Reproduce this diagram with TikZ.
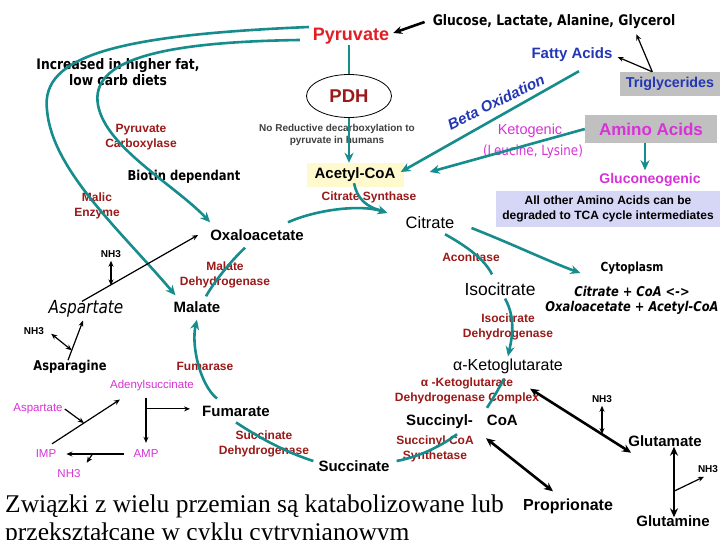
\documentclass[tikz,border=0pt]{standalone}
\usepackage{fontspec}
\setmainfont{Liberation Serif}
\newfontfamily\arialf{Liberation Sans}
\newfontfamily\comicf[FakeStretch=0.85]{DejaVu Sans}
\usetikzlibrary{shapes.geometric,arrows.meta,calc}

\definecolor{cycteal}{RGB}{22,140,140}
\definecolor{enzred}{RGB}{155,25,25}
\definecolor{pyrred}{RGB}{225,30,35}
\definecolor{fablue}{RGB}{35,55,180}
\definecolor{aamag}{RGB}{215,50,215}
\definecolor{boxgray}{RGB}{192,192,192}
\definecolor{boxlav}{RGB}{214,214,246}
\definecolor{acyel}{RGB}{255,250,205}

\begin{document}
\begin{tikzpicture}[x=1pt,y=-1pt,
  met/.style={font=\arialf\bfseries\fontsize{#1}{18}\selectfont,inner sep=1pt},
  met/.default=15,
  metr/.style={font=\arialf\fontsize{#1}{19}\selectfont,inner sep=1pt},
  enz/.style={font=\arialf\bfseries\fontsize{12}{15}\selectfont,text=enzred,align=center,inner sep=1pt},
  casual/.style={font=\comicf\bfseries\fontsize{#1}{16}\selectfont,align=center,inner sep=1pt},
  nh/.style={font=\arialf\bfseries\fontsize{10}{11}\selectfont,inner sep=1pt},
  mag/.style={font=\arialf\fontsize{11.5}{13}\selectfont,text=aamag,inner sep=1pt},
  flow/.style={cycteal,line width=2.6pt,-{Stealth[length=10pt,width=9pt]}},
  flowline/.style={cycteal,line width=2.6pt},
  lite/.style={line width=1.2pt,-{Stealth[length=6pt,width=5pt]}},
  lite2/.style={line width=1.2pt,{Stealth[length=6pt,width=5pt]}-{Stealth[length=6pt,width=5pt]}},
  heavy/.style={line width=2.6pt,-{Stealth[length=9pt,width=8pt]}},
  heavy2/.style={line width=2.6pt,{Stealth[length=9pt,width=8pt]}-{Stealth[length=9pt,width=8pt]}},
]
\fill[white] (0,0) rectangle (720,540);
\useasboundingbox (0,0) rectangle (720,540);

% Top: sources of pyruvate and acetyl-CoA
\node[font=\arialf\bfseries\fontsize{18}{20}\selectfont,text=pyrred,inner sep=1pt] (pyr) at (351,36) {Pyruvate};
\node[casual=14.5] (glc) at (554,22) {Glucose, Lactate, Alanine, Glycerol};
\node[met,text=fablue] (fa) at (572,55) {Fatty Acids};
\node[met=14.3,text=fablue,fill=boxgray,minimum width=101pt,minimum height=24pt] (tg) at (670,84) {Triglycerides};
\node[casual=14.5] (diet) at (118,72) {Increased in higher fat,\\low carb diets};
\node[ellipse,draw,line width=0.8pt,minimum width=85pt,minimum height=43pt,inner sep=0pt,
      font=\arialf\bfseries\fontsize{18.5}{20}\selectfont,text=enzred] (pdh) at (349,96) {PDH};
\node[font=\arialf\bfseries\fontsize{10}{12}\selectfont,text=black!75,align=center,inner sep=1pt] (nored) at (337,135)
  {No Reductive decarboxylation to\\pyruvate in humans};
\node[font=\arialf\bfseries\itshape\fontsize{15}{17}\selectfont,text=fablue,rotate=26,inner sep=1pt] (beta) at (496,102) {Beta Oxidation};
\node[font=\arialf\fontsize{14.5}{17}\selectfont,text=aamag,inner sep=1pt] (ket) at (530,131) {Ketogenic};
\node[font=\comicf\fontsize{14}{16}\selectfont,text=aamag,inner sep=1pt] (leu) at (533,152) {(Leucine, Lysine)};
\node[met=17,text=aamag,fill=boxgray,minimum width=132pt,minimum height=28pt] (aa) at (651,129) {Amino Acids};
\node[met=14,text=aamag] (gluc) at (650,180) {Gluconeogenic};
\node[font=\arialf\bfseries\fontsize{12}{15}\selectfont,fill=boxlav,align=center,minimum width=224pt,minimum height=36pt,inner sep=1pt] (allaa) at (608,209)
  {All other Amino Acids can be\\degraded to TCA cycle intermediates};
\node[met,fill=acyel,minimum width=97pt,minimum height=24pt] (acoa) at (355,175) {Acetyl-CoA};

% Cycle intermediates
\node[met] (oaa) at (257,235) {Oxaloacetate};
\node[metr=16.5] (cit) at (430,223) {Citrate};
\node[metr=17.5] (icit) at (500,289) {Isocitrate};
\node[metr=16] (akg) at (508,366) {α-Ketoglutarate};
\node[met] (scoa) at (462,422) {Succinyl-\hspace{14pt}CoA};
\node[met] (succ) at (354,466) {Succinate};
\node[met] (fum) at (236,411) {Fumarate};
\node[met] (mal) at (197,307) {Malate};

% Enzymes
\node[enz] (pc) at (141,137) {Pyruvate\\Carboxylase};
\node[casual=13.6] (biotin) at (184,177) {Biotin dependant};
\node[enz] (me) at (97,206) {Malic\\Enzyme};
\node[enz] (cs) at (369,197) {Citrate Synthase};
\node[enz] (acon) at (471,257) {Aconitase};
\node[enz] (idh) at (508,327) {Isocitrate\\Dehydrogenase};
\node[enz] (akgdh) at (467,391) {α -Ketoglutarate\\Dehydrogenase Complex};
\node[enz] (scs) at (435,449) {Succinyl CoA\\Synthetase};
\node[enz] (sdh) at (264,444) {Succinate\\Dehydrogenase};
\node[enz] (fase) at (205,366) {Fumarase};
\node[enz] (mdh) at (225,275) {Malate\\Dehydrogenase};

% Cytoplasm note
\node[casual=12.5] (cyt) at (632,268) {Cytoplasm};
\node[font=\comicf\bfseries\itshape\fontsize{13.5}{15}\selectfont,align=center,inner sep=1pt] (eqn) at (632,300)
  {Citrate + CoA <->\\Oxaloacetate + Acetyl-CoA};

% Aspartate side
\node[font=\comicf\itshape\fontsize{18}{20}\selectfont,inner sep=1pt] (asp) at (86,309) {Aspartate};
\node[nh] (nhA) at (111,254) {NH3};
\node[casual=13.5] (asn) at (70,367) {Asparagine};
\node[nh] (nhB) at (34,331) {NH3};
\node[mag] (ads) at (152,386) {Adenylsuccinate};
\node[mag] (aspm) at (38,409) {Aspartate};
\node[mag] (imp) at (46,454) {IMP};
\node[mag] (amp) at (146,454) {AMP};
\node[mag] (nhm) at (69,474) {NH3};

% Glutamate side
\node[nh] (nhC) at (602,399) {NH3};
\node[met] (glu) at (665,441) {Glutamate};
\node[met=16] (prop) at (568,506) {Proprionate};
\node[met] (gln) at (673,521) {Glutamine};
\node[nh] (nhD) at (708,469) {NH3};

% Caption
\node[anchor=base west,font=\fontsize{25.5}{28}\selectfont,inner sep=0pt] (cap1) at (5,512)
  {Związki z wielu przemian są katabolizowane lub};
\node[anchor=base west,font=\fontsize{25.5}{28}\selectfont,inner sep=0pt] (cap2) at (5,540)
  {przekształcane w cyklu cytrynianowym};

% Black arrows at the top
\draw[heavy] ([xshift=-7pt]glc.west) -- ([xshift=3pt,yshift=3pt]pyr.east);
\draw[lite] ([xshift=33pt]tg.north west) -- ([xshift=4pt,yshift=-2pt]fa.east);
\draw[lite] ([xshift=33pt]tg.north west) -- ([xshift=-40pt,yshift=-4pt]glc.south east);

% Pyruvate -> acetyl-CoA
\draw[flowline] (pdh.north |- pyr.south) -- (pdh.north);
\draw[flow] (pdh.south) -- (pdh.south |- acoa.north);
\draw[flow] ([xshift=7pt,yshift=-8pt]fa.south) -- ([xshift=-3pt,yshift=3pt]acoa.east);
\draw[flow] (aa.west) -- ([xshift=26pt,yshift=3pt]acoa.east);
\draw[flow] ([xshift=-6pt]aa.south) -- ([xshift=-5pt,yshift=2pt]gluc.north);

% Anaplerotic curves
\draw[flow] ([shift={(-3,-9)}]pyr.west) .. controls (120,35) and (40,55) .. (47,110)
  .. controls (52,170) and (120,230) .. ([xshift=3pt,yshift=5pt]mal.north west);
\draw[flow] ([shift={(-12,4)}]pyr.west) .. controls (160,42) and (90,60) .. (98,105)
  .. controls (106,148) and (175,185) .. ([xshift=1pt,yshift=6pt]oaa.north west);

% TCA cycle
\coordinate (csj) at (384,211);
\draw[flow] ([xshift=31pt,yshift=6pt]oaa.north) .. controls (315,210) and (360,204) .. ([xshift=-17pt,yshift=10pt]cit.west);
\draw[flowline] ([xshift=-1pt,yshift=4pt]acoa.south) .. controls (357,198) and (366,208) .. (csj);
\draw[flowline] ([xshift=15pt,yshift=-4pt]cit.south) .. controls (468,247) and (485,260) .. ([xshift=-8pt,yshift=7pt]icit.north);
\draw[flow] ([xshift=16pt,yshift=-5pt]cit.east) .. controls (510,243) and (550,262) .. ([xshift=-19pt,yshift=-5pt]cyt.west);
\draw[flow] ([xshift=5pt,yshift=-2pt]icit.south) .. controls (516,318) and (512,338) .. ([yshift=1pt]akg.north);
\draw[flowline] ([xshift=-4pt,yshift=-4pt]akg.south) .. controls (497,392) and (492,400) .. ([xshift=25pt,yshift=6pt]scoa.north);
\draw[flowline] ([xshift=-5pt,yshift=-4pt]scoa.south) .. controls (440,447) and (418,457) .. ([xshift=6pt,yshift=5pt]succ.east);
\draw[flowline] ([yshift=-5pt]fum.south) .. controls (258,437) and (285,452) .. ([xshift=-4pt,yshift=5pt]succ.west);
\draw[flow] ([xshift=-19pt,yshift=6pt]fum.north) .. controls (200,385) and (191,345) .. ([yshift=-6pt]mal.south);
\draw[flowline] ([xshift=9pt,yshift=4pt]mal.north) .. controls (214,282) and (230,262) .. ([xshift=-12pt,yshift=-6pt]oaa.south);

% Aspartate / asparagine
\draw[lite] ([xshift=-4pt,yshift=-2pt]asp.north) -- coordinate[pos=0.24] (nhpA) ([xshift=-11pt]oaa.west);
\draw[lite2] ([yshift=-2pt]nhA.south) -- (nhA.south |- nhpA);
\draw[lite] ([xshift=-2pt,yshift=-1pt]asn.north) -- coordinate[pos=0.25] (nhpB) ([xshift=-3pt,yshift=-2pt]asp.south);
\draw[lite2] ([xshift=6pt,yshift=2pt]nhB.south east) -- (nhpB);

% Purine nucleotide cycle
\draw[lite] ([xshift=6pt,yshift=5pt]imp.north) -- coordinate[pos=0.47] (aspj) ([xshift=11pt,yshift=-7pt]ads.south west);
\draw[lite] ([xshift=1pt]aspm.east) -- (aspj);
\draw[lite] ([xshift=-6pt,yshift=-5pt]ads.south) -- coordinate[pos=0.25] (brA) ([yshift=6pt]amp.north);
\draw[lite] (brA) -- ($(fum.west |- brA)+(-11,0)$);
\draw[lite] ([xshift=-8pt]amp.west) -- coordinate[pos=0.55] (nhpM) ([xshift=9pt]imp.east);
\draw[lite] (nhpM) -- ([xshift=5pt,yshift=6pt]nhm.north east);

% Glutamate / propionate
\draw[heavy2] ([xshift=-34pt,yshift=-14pt]akg.south east) -- coordinate[pos=0.71] (nhpC) ([xshift=4pt,yshift=-5pt]glu.south west);
\draw[lite2] ([yshift=-2pt]nhC.south) -- (nhC.south |- nhpC);
\draw[heavy2] ([xshift=24pt,yshift=-8pt]scoa.south) -- ([xshift=-15pt,yshift=6pt]prop.north);
\draw[heavy2] ([xshift=9pt,yshift=1pt]glu.south) -- coordinate[pos=0.63] (nhpD) ([xshift=1pt,yshift=-3pt]gln.north);
\draw[lite] (nhpD) -- ([xshift=-4pt,yshift=-3pt]nhD.south);

\end{tikzpicture}
\end{document}
